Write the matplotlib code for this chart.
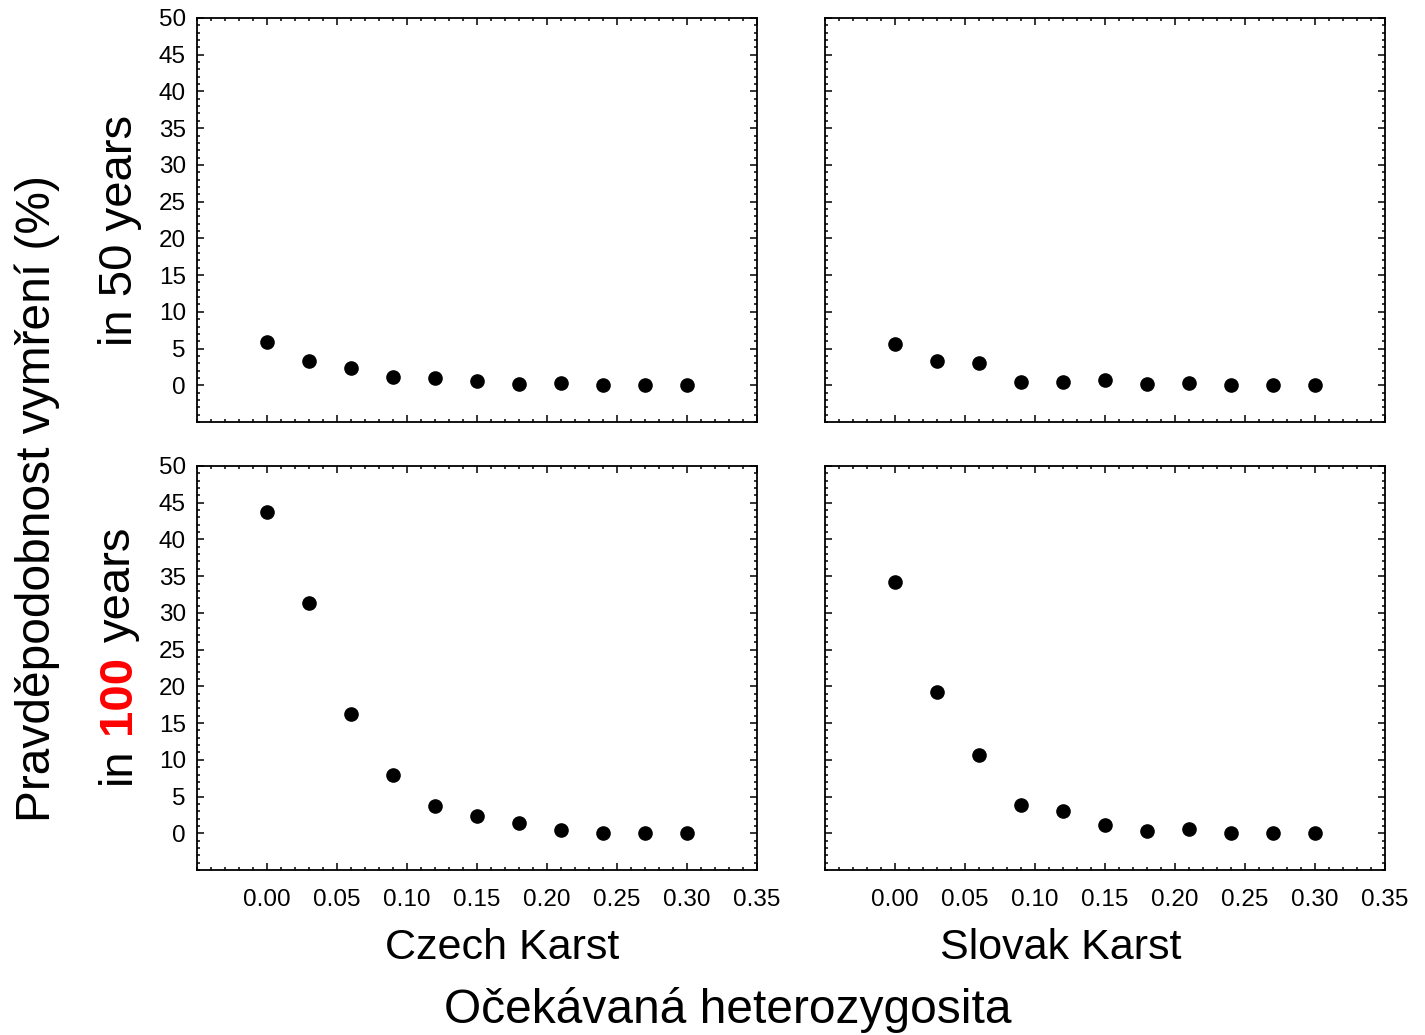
import numpy as np
import matplotlib.pyplot as plt
from matplotlib.ticker import MultipleLocator

plt.rcParams['font.family'] = ['Liberation Sans', 'DejaVu Sans']

# heterozygosity values (x) for every panel
het = [0.00, 0.03, 0.06, 0.09, 0.12, 0.15, 0.18, 0.21, 0.24, 0.27, 0.30]

# extinction probability (%)
czech_50 = [5.9, 3.3, 2.3, 1.1, 1.0, 0.55, 0.15, 0.25, 0.0, 0.0, 0.0]
slovak_50 = [5.6, 3.3, 3.0, 0.4, 0.4, 0.7, 0.15, 0.3, 0.0, 0.0, 0.0]
czech_100 = [43.7, 31.4, 16.3, 8.0, 3.7, 2.3, 1.4, 0.5, 0.0, 0.0, 0.0]
slovak_100 = [34.2, 19.2, 10.6, 3.8, 3.0, 1.1, 0.3, 0.6, 0.0, 0.0, 0.0]

site_names = ["Czech Karst", "Slovak Karst"]
xticks = [0.00, 0.05, 0.10, 0.15, 0.20, 0.25, 0.30, 0.35]
yticks = list(range(0, 55, 5))

fig = plt.figure(figsize=(14.25, 10.35), dpi=100)

lefts = [197 / 1425, 825 / 1425]
bottoms = [1 - 422 / 1035, 1 - 870 / 1035]
w = 560 / 1425
h = 404 / 1035

panels = [[czech_50, slovak_50], [czech_100, slovak_100]]

for r in range(2):
    for c in range(2):
        ax = fig.add_axes([lefts[c], bottoms[r], w, h])
        ax.plot(het, panels[r][c], 'o', color='black', markersize=9.5)
        ax.set_xlim(-0.05, 0.35)
        ax.set_ylim(-5, 50)
        ax.set_xticks(xticks)
        ax.set_yticks(yticks)
        ax.xaxis.set_minor_locator(MultipleLocator(0.01))
        ax.yaxis.set_minor_locator(MultipleLocator(1))
        ax.tick_params(which='both', direction='in', top=True, right=True,
                       width=1.1, labelsize=17.5, pad=8)
        ax.tick_params(which='major', length=5)
        ax.tick_params(which='minor', length=2.5)
        for s in ax.spines.values():
            s.set_linewidth(1.3)
        ax.xaxis.set_major_formatter(plt.FuncFormatter(lambda v, p: f"{v:.2f}"))
        if r == 0:
            ax.tick_params(labelbottom=False)
        else:
            ax.tick_params(axis='x', pad=14)
        if c == 1:
            ax.tick_params(labelleft=False)

fig.text(502 / 1425, 1 - 948 / 1035, site_names[0], ha='center', va='center', fontsize=31)
fig.text(1061 / 1425, 1 - 948 / 1035, site_names[1], ha='center', va='center', fontsize=31)

fig.text(728 / 1425, 1 - 1010 / 1035, "Očekávaná heterozygosita",
         ha='center', va='center', fontsize=34.5)
fig.text(37 / 1425, 1 - 498 / 1035, "Pravděpodobnost vymření (%)",
         ha='center', va='center', rotation=90, fontsize=34.5)
fig.text(120 / 1425, 1 - 230 / 1035, "in 50 years",
         ha='center', va='center', rotation=90, fontsize=34)

# "in 100 years" with red bold number, built from three pieces
fig.canvas.draw()
renderer = fig.canvas.get_renderer()
fs = 34
parts = [("in", 'black', 'normal'), ("100", 'red', 'bold'), ("years", 'black', 'normal')]
xc = 118 / 1425
t1 = fig.text(0, 0, "a a", fontsize=fs)
t2 = fig.text(0, 0, "aa", fontsize=fs)
space = t1.get_window_extent(renderer).width - t2.get_window_extent(renderer).width
t1.remove()
t2.remove()
texts = []
for s, col, wt in parts:
    t = fig.text(xc, 0, s, ha='center', va='bottom', rotation=90,
                 fontsize=fs, color=col, fontweight=wt)
    texts.append(t)
heights = [t.get_window_extent(renderer).height for t in texts]
total = sum(heights) + 2 * space
y = (1035 - 655) - total / 2
for i, t in enumerate(texts):
    t.set_y(y / 1035)
    y += heights[i] + space

fig.savefig("out.png", dpi=100)
